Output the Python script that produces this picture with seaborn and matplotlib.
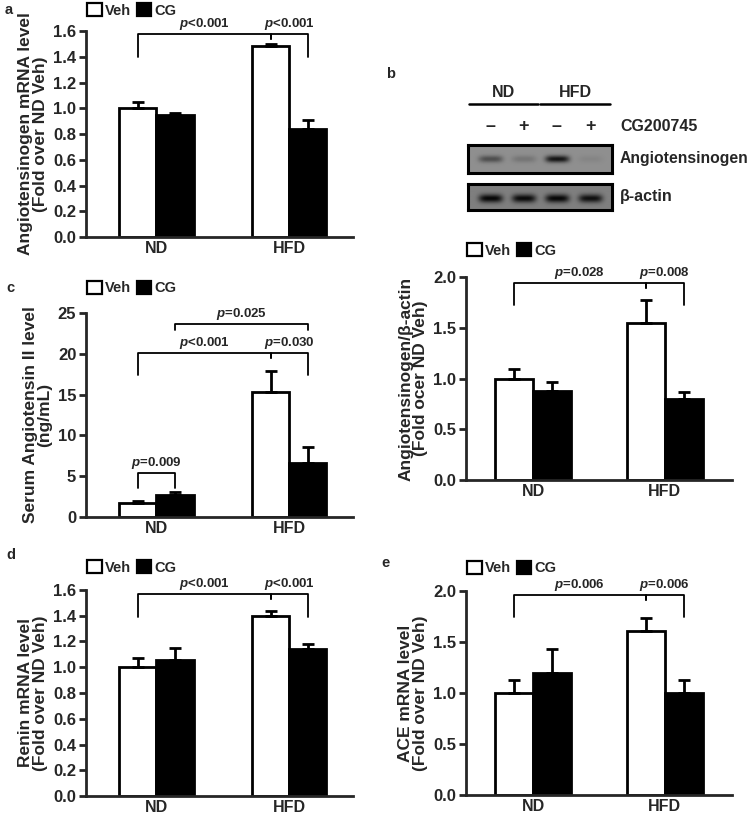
import numpy as np
import pandas as pd
import seaborn as sns
import matplotlib.pyplot as plt
from matplotlib.patches import Patch

sns.set_style("ticks")
plt.rcParams['font.family'] = ['Liberation Sans', 'DejaVu Sans']
plt.rcParams['font.weight'] = 'bold'
plt.rcParams['axes.labelweight'] = 'bold'
plt.rcParams['mathtext.fontset'] = 'custom'
plt.rcParams['mathtext.it'] = 'Liberation Sans:bold:italic'
plt.rcParams['mathtext.rm'] = 'Liberation Sans:bold'

# ------------------------------------------------------------
# DATA  (bar order: ND-Veh, ND-CG, HFD-Veh, HFD-CG)
# ------------------------------------------------------------
groups = ["ND", "HFD"]
treatments = ["Veh", "CG"]

agt_mrna = [1.00, 0.95, 1.48, 0.84]
agt_mrna_err = [0.05, 0.01, 0.02, 0.07]

agt_protein = [1.00, 0.88, 1.55, 0.80]
agt_protein_err = [0.09, 0.09, 0.22, 0.07]

ang2_serum = [1.7, 2.7, 15.3, 6.6]
ang2_serum_err = [0.2, 0.3, 2.6, 2.0]

renin_mrna = [1.00, 1.06, 1.40, 1.14]
renin_mrna_err = [0.07, 0.09, 0.04, 0.04]

ace_mrna = [1.00, 1.20, 1.61, 1.00]
ace_mrna_err = [0.13, 0.23, 0.13, 0.13]

# significance brackets: (bar i, bar j, top, leg end i, leg end j, label)
brackets_a = [(0, 2, 1.58, 1.40, 1.54, "$p$<0.001"),
              (2, 3, 1.58, 1.54, 1.40, "$p$<0.001")]
brackets_b = [(0, 2, 1.94, 1.72, 1.89, "$p$=0.028"),
              (2, 3, 1.94, 1.89, 1.72, "$p$=0.008")]
brackets_c = [(0, 1, 5.4, 3.6, 3.6, "$p$=0.009"),
              (0, 2, 20.1, 17.4, 19.5, "$p$<0.001"),
              (2, 3, 20.1, 19.5, 17.4, "$p$=0.030"),
              (1, 3, 23.6, 22.9, 22.9, "$p$=0.025")]
brackets_d = [(0, 2, 1.57, 1.39, 1.53, "$p$<0.001"),
              (2, 3, 1.57, 1.53, 1.39, "$p$<0.001")]
brackets_e = [(0, 2, 1.96, 1.75, 1.91, "$p$=0.006"),
              (2, 3, 1.96, 1.91, 1.75, "$p$=0.006")]

# western blot band intensities (0 = none, 1 = saturated)
blot_lanes = ["-", "+", "-", "+"]
band_agt = [0.45, 0.18, 0.85, 0.07]
band_actin = [0.95, 0.92, 0.95, 0.88]


# ------------------------------------------------------------
# HELPERS
# ------------------------------------------------------------
def bar_panel(ax, vals, errs, ylim, yticks, fmt, ylabel, brackets, width, xlim, leg_y):
    df = pd.DataFrame({"group": np.repeat(groups, 2),
                       "treatment": treatments * 2,
                       "value": vals})
    sns.barplot(data=df, x="group", y="value", hue="treatment",
                order=groups, hue_order=treatments,
                palette={"Veh": "white", "CG": "black"},
                edgecolor="black", linewidth=2, width=width,
                errorbar=None, legend=False, ax=ax)

    veh, cg = ax.containers[0], ax.containers[1]
    xs = [veh[0].get_x() + veh[0].get_width() / 2,
          cg[0].get_x() + cg[0].get_width() / 2,
          veh[1].get_x() + veh[1].get_width() / 2,
          cg[1].get_x() + cg[1].get_width() / 2]

    ax.errorbar(xs, vals, yerr=[np.zeros(4), errs], fmt="none", ecolor="black",
                elinewidth=2, capsize=4, capthick=2, zorder=3)

    for i, j, top, yi, yj, label in brackets:
        ax.plot([xs[i], xs[i], xs[j], xs[j]], [yi, top, top, yj],
                color="black", lw=1.3, clip_on=False, zorder=4)
        ax.annotate(label, ((xs[i] + xs[j]) / 2, top), xytext=(0, 1.5),
                    textcoords="offset points", ha="center", va="bottom",
                    fontsize=9.5, fontweight="bold", annotation_clip=False)

    ax.set_ylim(*ylim)
    ax.set_xlim(*xlim)
    ax.set_yticks(yticks)
    ax.set_yticklabels([fmt.format(t) for t in yticks], fontsize=12, fontweight="bold")
    ax.set_xticks([0, 1])
    ax.set_xticklabels(groups, fontsize=11.5, fontweight="bold")
    ax.tick_params(axis="x", length=0, pad=3)
    ax.tick_params(axis="y", length=5, width=2, pad=2)
    ax.set_xlabel("")
    ax.set_ylabel(ylabel, fontsize=12.5, fontweight="bold", linespacing=0.95, labelpad=4)
    for side in ["top", "right"]:
        ax.spines[side].set_visible(False)
    for side in ["left", "bottom"]:
        ax.spines[side].set_linewidth(2)

    handles = [Patch(facecolor="white", edgecolor="black", lw=1.6),
               Patch(facecolor="black", edgecolor="black", lw=1.6)]
    ax.legend(handles, treatments, loc="lower left", bbox_to_anchor=(0.005, leg_y),
              ncol=2, frameon=False, handlelength=1.0, handleheight=1.0,
              handletextpad=0.2, columnspacing=0.4, borderaxespad=0, borderpad=0,
              prop={"size": 10.5, "weight": "bold"})


def blot_panel(ax, bands, bg, band_h, yc):
    ny, nx = 28, 144
    yy, xx = np.mgrid[0:ny, 0:nx]
    img = np.full((ny, nx), bg)
    for k, inten in enumerate(bands):
        xc = nx * (0.155 + 0.231 * k)
        blob = np.exp(-((xx - xc) / 12.0) ** 4 - ((yy - yc) / band_h) ** 2)
        img = img - inten * bg * blob
    ax.imshow(img, cmap="gray", vmin=0, vmax=1, aspect="auto", interpolation="bilinear")
    ax.set_xticks([])
    ax.set_yticks([])
    for sp in ax.spines.values():
        sp.set_linewidth(2.2)
        sp.set_color("black")


# ------------------------------------------------------------
# FIGURE
# ------------------------------------------------------------
fig = plt.figure(figsize=(7.55, 8.14), dpi=100)

ax_a = fig.add_axes([0.1139, 0.7088, 0.3536, 0.2531])
ax_c = fig.add_axes([0.1139, 0.3649, 0.3536, 0.2506])
ax_d = fig.add_axes([0.1139, 0.0221, 0.3536, 0.2531])
ax_b = fig.add_axes([0.6172, 0.4103, 0.3523, 0.2494])
ax_e = fig.add_axes([0.6172, 0.0233, 0.3523, 0.2506])

bar_panel(ax_a, agt_mrna, agt_mrna_err, (0, 1.6), np.arange(0, 1.61, 0.2), "{:.1f}",
          "Angiotensinogen mRNA level\n(Fold over ND Veh)", brackets_a, 0.56, (-0.53, 1.48), 1.065)
bar_panel(ax_c, ang2_serum, ang2_serum_err, (0, 25), np.arange(0, 26, 5), "{:.0f}",
          "Serum Angiotensin II level\n(ng/mL)", brackets_c, 0.56, (-0.53, 1.48), 1.088)
bar_panel(ax_d, renin_mrna, renin_mrna_err, (0, 1.6), np.arange(0, 1.61, 0.2), "{:.1f}",
          "Renin mRNA level\n(Fold over ND Veh)", brackets_d, 0.56, (-0.53, 1.48), 1.073)
bar_panel(ax_b, agt_protein, agt_protein_err, (0, 2.0), np.arange(0, 2.01, 0.5), "{:.1f}",
          "Angiotensinogen/β-actin\n(Fold ocer ND Veh)", brackets_b, 0.58, (-0.51, 1.51), 1.094)
bar_panel(ax_e, ace_mrna, ace_mrna_err, (0, 2.0), np.arange(0, 2.01, 0.5), "{:.1f}",
          "ACE mRNA level\n(Fold over ND Veh)", brackets_e, 0.58, (-0.51, 1.51), 1.078)

# western blot
ax_blot1 = fig.add_axes([0.6199, 1 - 173 / 814, 144 / 755, 28 / 814])
ax_blot2 = fig.add_axes([0.6199, 1 - 210 / 814, 144 / 755, 26 / 814])
blot_panel(ax_blot1, band_agt, 0.56, 3.5, 13.5)
blot_panel(ax_blot2, band_actin, 0.50, 4.5, 15.0)

t = ax_blot1.transAxes
ax_blot1.plot([0.007, 0.486], [2.46, 2.46], color="black", lw=1.8, transform=t, clip_on=False)
ax_blot1.plot([0.500, 0.986], [2.46, 2.46], color="black", lw=1.8, transform=t, clip_on=False)
ax_blot1.text(0.243, 2.89, "ND", transform=t, ha="center", va="center", fontsize=11.5, fontweight="bold")
ax_blot1.text(0.743, 2.89, "HFD", transform=t, ha="center", va="center", fontsize=11.5, fontweight="bold")
for k, s in enumerate(blot_lanes):
    ax_blot1.text(0.155 + 0.231 * k, 1.66, "–" if s == "-" else "+", transform=t,
                  ha="center", va="center", fontsize=13, fontweight="bold")
ax_blot1.text(1.056, 1.66, "CG200745", transform=t, ha="left", va="center", fontsize=11.5, fontweight="bold")
ax_blot1.text(1.056, 0.5, "Angiotensinogen", transform=t, ha="left", va="center", fontsize=11.3, fontweight="bold")
ax_blot2.text(1.056, 0.5, "β-actin", transform=ax_blot2.transAxes, ha="left", va="center",
              fontsize=11.5, fontweight="bold")

# panel letters
for letter, px, py in [("a", 5, 10), ("b", 386, 74), ("c", 6, 288), ("d", 6, 555), ("e", 381, 563)]:
    fig.text(px / 755, 1 - py / 814, letter, ha="left", va="center", fontsize=10.5, fontweight="bold")

fig.savefig("out.png", dpi=100)
